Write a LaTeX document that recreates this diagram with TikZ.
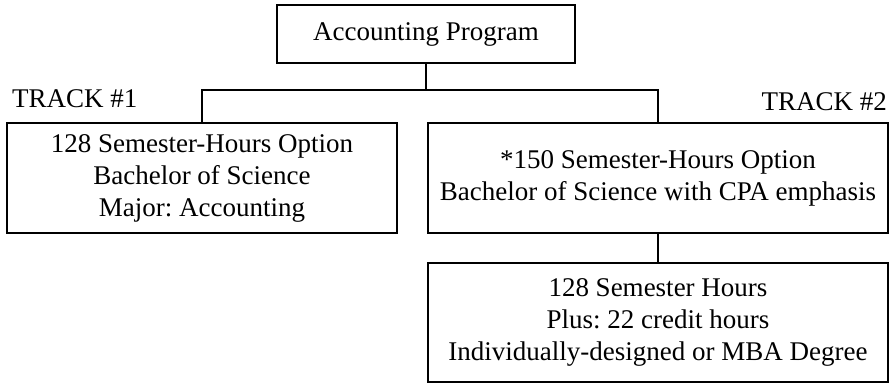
\documentclass[tikz,border=0pt]{standalone}
\usepackage{fontspec}
\setmainfont{Liberation Serif}
\frenchspacing
\begin{document}
\begin{tikzpicture}[x=1pt,y=-1pt,
	box/.style={draw,line width=1.4pt,inner sep=0pt,align=center,
		font=\fontsize{27}{32}\selectfont},
	track/.style={inner sep=0pt,font=\fontsize{27}{32}\selectfont}]
\useasboundingbox (0,0) rectangle (893,384);
\node[box,minimum width=298,minimum height=58] (prog) at (426,34) {Accounting Program};
\node[box,minimum width=390,minimum height=110] (opt128) at (202,178)
	{128 Semester-Hours Option\\Bachelor of Science\\Major: Accounting};
\node[box,minimum width=460,minimum height=110] (opt150) at (658,178)
	{*150 Semester-Hours Option\\Bachelor of Science with CPA emphasis};
\node[box,minimum width=460,minimum height=119] (plus) at (658,322.5)
	{128 Semester Hours\\Plus: 22 credit hours\\Individually-designed or MBA Degree};
\node[track,anchor=base west] (track1) at (12,107) {TRACK \#1};
\node[track,anchor=base east] (track2) at (887,110) {TRACK \#2};
\coordinate (bus) at (426,90);
\draw[line width=1.4pt] (prog.south) to (bus);
\draw[line width=1.4pt] (opt128.north) |- (bus) -| (opt150.north);
\draw[line width=1.4pt] (opt150.south) to (plus.north);
\end{tikzpicture}
\end{document}
